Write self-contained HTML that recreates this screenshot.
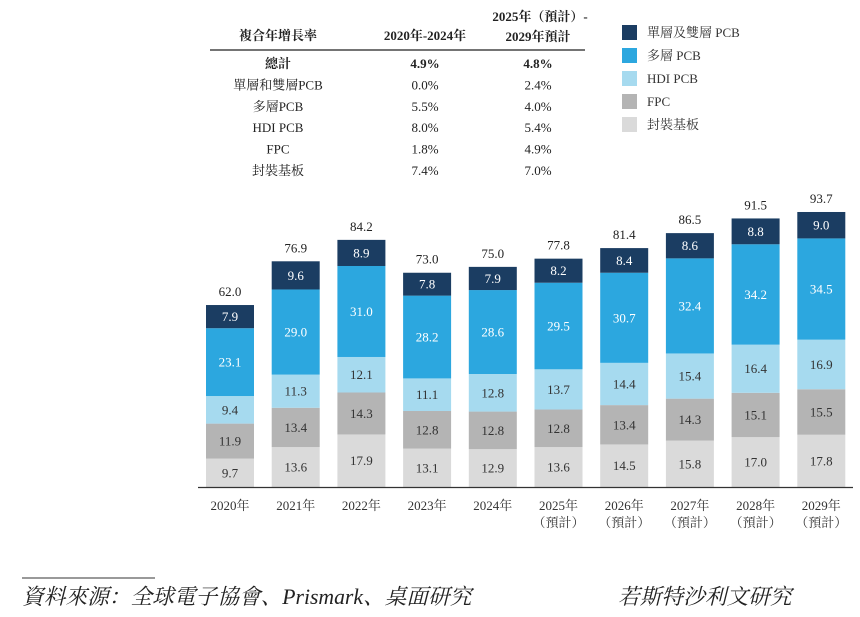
<!DOCTYPE html>
<html><head><meta charset="utf-8"><style>
body{margin:0;background:#fff;}
svg{display:block;font-family:"Liberation Serif","Noto Serif CJK SC",serif;}
</style></head><body>
<svg width="860" height="617" viewBox="0 0 860 617">
<g id="table" font-size="13" fill="#222" text-anchor="middle">
<text x="278" y="40" font-weight="bold">複合年增長率</text>
<text x="425" y="40" font-weight="bold">2020年-2024年</text>
<text x="540" y="21" font-weight="bold">2025年（預計）-</text>
<text x="538" y="41" font-weight="bold">2029年預計</text>
<line x1="210" y1="50" x2="585" y2="50" stroke="#222" stroke-width="1.2"/>
</g>
<g id="legend" font-size="13" fill="#333"></g>
<g id="bars"></g>
<line x1="198" y1="487.5" x2="853" y2="487.5" stroke="#333" stroke-width="1.3"/>
<g id="xlabels" font-size="13" fill="#333" text-anchor="middle"></g>
<line x1="22" y1="578" x2="155" y2="578" stroke="#333" stroke-width="1"/>
<text x="22" y="604" font-size="21.7" font-style="italic" fill="#222">資料來源：全球電子協會、Prismark、桌面研究</text>
<text x="618" y="604" font-size="21.7" font-style="italic" fill="#222">若斯特沙利文研究</text>
</svg>
<script>
const NS="http://www.w3.org/2000/svg";
const years=["2020年","2021年","2022年","2023年","2024年","2025年","2026年","2027年","2028年","2029年"];
const forecast=[false,false,false,false,false,true,true,true,true,true];
const packaging=[9.7,13.6,17.9,13.1,12.9,13.6,14.5,15.8,17.0,17.8];
const fpc=[11.9,13.4,14.3,12.8,12.8,12.8,13.4,14.3,15.1,15.5];
const hdi=[9.4,11.3,12.1,11.1,12.8,13.7,14.4,15.4,16.4,16.9];
const multi=[23.1,29.0,31.0,28.2,28.6,29.5,30.7,32.4,34.2,34.5];
const single=[7.9,9.6,8.9,7.8,7.9,8.2,8.4,8.6,8.8,9.0];
const totals=["62.0","76.9","84.2","73.0","75.0","77.8","81.4","86.5","91.5","93.7"];
const seriesNames=["單層及雙層 PCB","多層 PCB","HDI PCB","FPC","封裝基板"];
const cagrRows=["總計","單層和雙層PCB","多層PCB","HDI PCB","FPC","封裝基板"];
const cagr1=["4.9%","0.0%","5.5%","8.0%","1.8%","7.4%"];
const cagr2=["4.8%","2.4%","4.0%","5.4%","4.9%","7.0%"];
const colors=["#1b3d62","#2ca7df","#a6daef","#b4b4b4","#dadada"];
const stack=[packaging,fpc,hdi,multi,single];
const stackColor=[colors[4],colors[3],colors[2],colors[1],colors[0]];
const stackText=["#333","#333","#333","#fff","#fff"];
const stackKey=["packaging","fpc","hdi","multi-layer","single-double"];
const baseY=487, k=2.935, x0=230, step=65.7, bw=48;
const xs=i=>x0+i*step, ys=v=>v*k;
function mk(tag,attrs,parent){const e=document.createElementNS(NS,tag);for(const a in attrs)e.setAttribute(a,attrs[a]);parent.appendChild(e);return e;}
const bars=document.getElementById('bars');
years.forEach((y,i)=>{
  let acc=0;
  stack.forEach((s,j)=>{
    const h=ys(s[i]);const top=baseY-ys(acc)-h;
    const r=mk('rect',{x:xs(i)-bw/2,y:top,width:bw,height:h,fill:stackColor[j]},bars);
    
    
    const t=mk('text',{x:xs(i),y:top+h/2+4.5,'font-size':13,'text-anchor':'middle',fill:stackText[j]},bars);
    t.textContent=s[i].toFixed(1);
    
    
    acc+=s[i];
  });
  const t=mk('text',{x:xs(i),y:baseY-ys(acc)-9,'font-size':13,'text-anchor':'middle',fill:'#222'},bars);
  t.textContent=totals[i];
  
  
});
const xl=document.getElementById('xlabels');
years.forEach((y,i)=>{
  const t=mk('text',{x:xs(i),y:510},xl);t.textContent=y;
  
  
  if(forecast[i]){const f=mk('text',{x:xs(i),y:527},xl);f.textContent="（預計）";
  
  }
});
const lg=document.getElementById('legend');
seriesNames.forEach((n,i)=>{
  const r=mk('rect',{x:622,y:25+i*23,width:15,height:15,fill:colors[i]},lg);
  
  
  const t=mk('text',{x:647,y:37+i*23},lg);t.textContent=n;
  
  
});
const tb=document.getElementById('table');
cagrRows.forEach((n,i)=>{
  const y=68+i*21.4;const b=i===0?'bold':'normal';
  [[278,n],[425,cagr1[i]],[538,cagr2[i]]].forEach(([x,v],c)=>{
    const t=mk('text',{x:x,y:y,'font-weight':b},tb);t.textContent=v;
    
    
  });
});
</script>
</body></html>
